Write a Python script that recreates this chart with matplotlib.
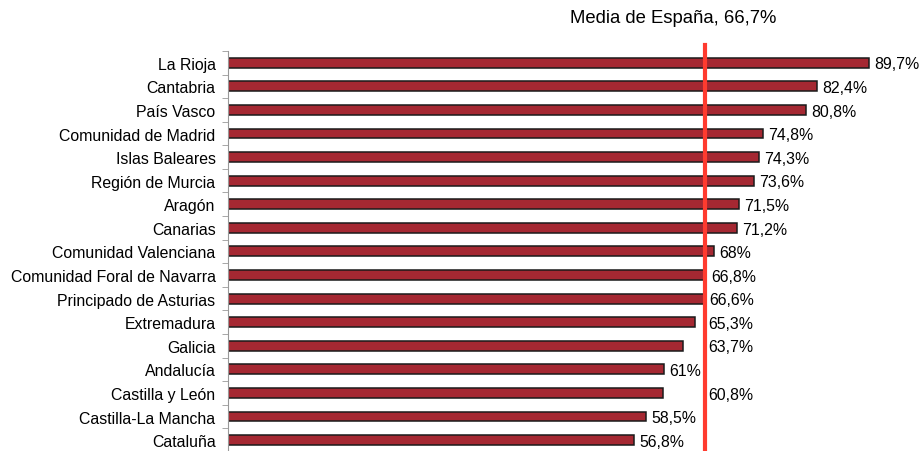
import matplotlib.pyplot as plt

plt.rcParams['font.family'] = ['Liberation Sans', 'DejaVu Sans']

regions = ["La Rioja", "Cantabria", "País Vasco", "Comunidad de Madrid",
           "Islas Baleares", "Región de Murcia", "Aragón", "Canarias",
           "Comunidad Valenciana", "Comunidad Foral de Navarra",
           "Principado de Asturias", "Extremadura", "Galicia", "Andalucía",
           "Castilla y León", "Castilla-La Mancha", "Cataluña"]
values = [89.7, 82.4, 80.8, 74.8, 74.3, 73.6, 71.5, 71.2, 68.0, 66.8,
          66.6, 65.3, 63.7, 61.0, 60.8, 58.5, 56.8]
labels = ["89,7%", "82,4%", "80,8%", "74,8%", "74,3%", "73,6%", "71,5%",
          "71,2%", "68%", "66,8%", "66,6%", "65,3%", "63,7%", "61%",
          "60,8%", "58,5%", "56,8%"]
spain_mean = 66.7
mean_label = "Media de España, 66,7%"
# labels that sit to the right of the mean line
moved = ["Extremadura", "Galicia", "Castilla y León"]

fig = plt.figure(figsize=(9.21, 4.52), dpi=100)
ax = fig.add_axes([0.2476, -0.002, 0.7295, 0.887])

y = list(range(len(regions)))
ax.barh(y, values, height=0.42, color="#A52832", edgecolor="#1a1a1a", linewidth=1.1)
ax.set_ylim(len(regions) - 0.5, -0.5)
ax.set_xlim(0, 94)

ax.axvline(spain_mean, ymin=0, ymax=1 + 6 / 401, color="#FF3B2F", lw=3,
           clip_on=False, zorder=5)
ax.text(62.3, -1.9, mean_label, ha="center", va="center", fontsize=13.3)

for i, (v, lab) in enumerate(zip(values, labels)):
    x = v + 0.75
    if regions[i] in moved:
        x = spain_mean + 0.55
    ax.text(x, i + 0.05, lab, va="center", ha="left", fontsize=11.4)

ax.set_yticks(y)
ax.set_yticklabels(regions, fontsize=11.4)
ax.set_yticks([i + 0.5 for i in range(-1, len(regions))], minor=True)
ax.tick_params(axis="y", which="major", length=0, pad=9)
ax.tick_params(axis="y", which="minor", length=4, color="#999999")
ax.set_xticks([])
for s in ["top", "right", "bottom"]:
    ax.spines[s].set_visible(False)
ax.spines["left"].set_color("#999999")

fig.savefig("out.png", dpi=100)
